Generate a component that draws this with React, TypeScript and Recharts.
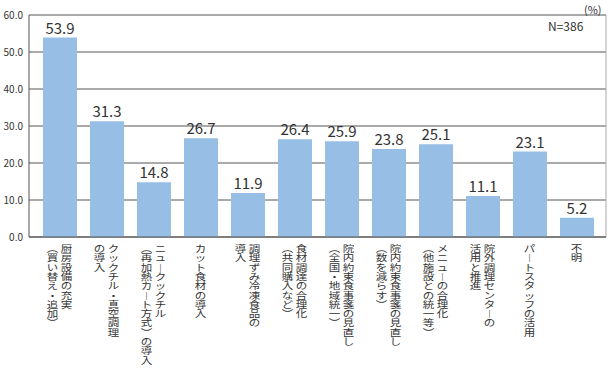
import { BarChart, Bar, XAxis, YAxis, CartesianGrid, LabelList } from "recharts";

const categories: string[][] = [
  ["厨房設備の充実", "（買い替え・追加）"],
  ["クックチル・真空調理", "の導入"],
  ["ニュークックチル", "（再加熱カート方式）の導入"],
  ["カット食材の導入"],
  ["調理ずみ冷凍食品の", "導入"],
  ["食材調達の合理化", "（共同購入など）"],
  ["院内約束食事箋の見直し", "（全国・地域統一）"],
  ["院内約束食事箋の見直し", "（数を減らす）"],
  ["メニューの合理化", "（他施設との統一等）"],
  ["院外調理センターの", "活用と推進"],
  ["パートスタッフの活用"],
  ["不明"],
];

const values = [53.9, 31.3, 14.8, 26.7, 11.9, 26.4, 25.9, 23.8, 25.1, 11.1, 23.1, 5.2];

const yTicks = [0, 10, 20, 30, 40, 50, 60];

const data = categories.map((lines, i) => ({ key: String(i), lines, value: values[i] }));

const JP = '"Noto Sans CJK JP", "Noto Sans", sans-serif';

// vertical presentation forms for brackets / long vowel
const VERT: Record<string, string> = { "（": "︵", "）": "︶", "ー": "︱" };

function VerticalTick(props: any) {
  const { x, y, payload } = props;
  const lines: string[] = categories[Number(payload.value)] ?? [];
  const gap = 14;
  const pitch = 9.3;
  const sy = 0.8;
  const n = lines.length;
  return (
    <g>
      {lines.map((line, j) => {
        // first line on the right, next ones to the left
        const cx = x + ((n - 1) / 2 - j) * gap;
        return (
          <text
            key={j}
            fill="#333"
            fontSize={11.5}
            fontFamily={JP}
            textAnchor="middle"
            dominantBaseline="central"
            transform={`translate(${cx} ${y - 2}) scale(1 ${sy})`}
          >
            {Array.from(line).map((ch, k) => (
              <tspan key={k} x={0} y={(k * pitch + pitch / 2) / sy}>
                {VERT[ch] ?? ch}
              </tspan>
            ))}
          </text>
        );
      })}
    </g>
  );
}

export default function App() {
  return (
    <div style={{ position: "absolute", left: 0, top: 0, width: 610, height: 368, background: "#fff" }}>
      <BarChart
        width={610}
        height={368}
        data={data}
        margin={{ top: 15, right: 4, left: 0, bottom: 0 }}
      >
        <CartesianGrid horizontal vertical={false} stroke="#555" />
        <CartesianGrid
          horizontal={false}
          vertical
          stroke="#aaa"
          verticalCoordinatesGenerator={({ offset }: any) => [offset.left + offset.width]}
        />
        <XAxis
          dataKey="key"
          height={131}
          tickLine={false}
          axisLine={{ stroke: "#555" }}
          interval={0}
          padding={{ left: 7, right: 6 }}
          tick={<VerticalTick />}
        />
        <YAxis
          width={29}
          domain={[0, 60]}
          ticks={yTicks}
          tickFormatter={(v: number) => v.toFixed(1)}
          tickLine={false}
          tickSize={4}
          axisLine={{ stroke: "#555" }}
          tick={{ fill: "#333", fontSize: 10, fontFamily: JP }}
        />
        <Bar dataKey="value" fill="#97bfe6" barSize={34} isAnimationActive={false}>
          <LabelList dataKey="value" position="top" offset={4} fill="#333" fontSize={15} fontFamily={JP} />
        </Bar>
      </BarChart>
      <div style={{ position: "absolute", left: 584, top: 1, fontSize: 11, fontFamily: JP, color: "#333" }}>(%)</div>
      <div style={{ position: "absolute", left: 548, top: 17, fontSize: 12, fontFamily: JP, color: "#333" }}>N=386</div>
    </div>
  );
}
